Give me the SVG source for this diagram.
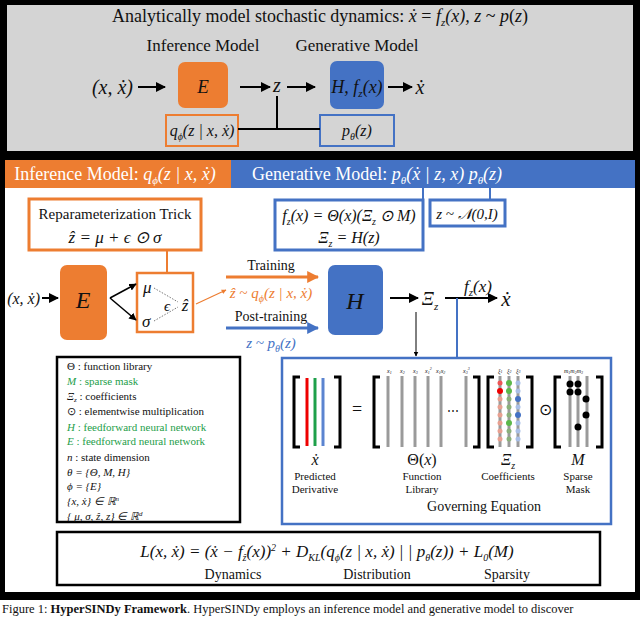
<svg xmlns="http://www.w3.org/2000/svg" width="640" height="618" viewBox="0 0 640 618" font-family="'Liberation Serif', 'Times New Roman', serif">
<defs>
<marker id="ab" viewBox="0 0 10 10" refX="9" refY="5" markerWidth="5" markerHeight="5" orient="auto"><path d="M0,0 L10,5 L0,10 z" fill="#000"/></marker>
<marker id="ao" viewBox="0 0 10 10" refX="9" refY="5" markerWidth="4" markerHeight="4" orient="auto"><path d="M0,0 L10,5 L0,10 z" fill="#ED7D31"/></marker>
<marker id="al" viewBox="0 0 10 10" refX="9" refY="5" markerWidth="4" markerHeight="4" orient="auto"><path d="M0,0 L10,5 L0,10 z" fill="#4472C4"/></marker>
<style>
text{font-family:'Liberation Serif','Times New Roman',serif;fill:#111}
.m{font-style:italic}
.c{text-anchor:middle}
.ln{stroke:#000;stroke-width:2;fill:none}
.ob{stroke:#ED7D31;stroke-width:3;fill:#fff}
.bb{stroke:#4472C4;stroke-width:3;fill:#fff}
.g{stroke:#9a9a9a;stroke-width:3}
.lg{font-size:11px}
.gr{fill:#1e9e4a}
</style>
</defs>
<rect x="0" y="0" width="640" height="600" fill="#000"/>
<rect x="0" y="600" width="640" height="18" fill="#fff"/>
<rect x="7" y="5" width="626" height="146" fill="#d4d4d4"/>
<rect x="5" y="160" width="630" height="432" fill="#fff"/>

<g id="top">
<text x="320" y="22" class="c" font-size="18">Analytically model stochastic dynamics:  <tspan class="m">ẋ</tspan> = <tspan class="m">f<tspan font-size="11" dy="4">z</tspan><tspan dy="-4">(x), z</tspan></tspan> ~ <tspan class="m">p</tspan>(<tspan class="m">z</tspan>)</text>
<text x="203" y="51" class="c" font-size="17">Inference Model</text>
<text x="357" y="51" class="c" font-size="17">Generative Model</text>
<text x="133" y="94" font-size="20" class="m" text-anchor="end">(x, ẋ)</text>
<rect id="E1" x="178" y="62" width="50" height="46" rx="7" fill="#ED7D31"/>
<text x="203" y="93" class="c m" font-size="19">E</text>
<text x="277" y="92" class="c m" font-size="20">z</text>
<rect id="H1" x="330" y="61" width="54" height="48" rx="7" fill="#4472C4"/>
<text x="357" y="93" class="c m" font-size="18">H, f<tspan font-size="11" dy="4">z</tspan><tspan dy="-4">(x)</tspan></text>
<text x="420" y="94" class="c m" font-size="20">ẋ</text>
<rect id="q1" x="166" y="115" width="72" height="31" fill="none" stroke="#ED7D31" stroke-width="2"/>
<text x="202" y="136" class="c m" font-size="16">q<tspan font-size="10" dy="4">ϕ</tspan><tspan dy="-4">(z | x, ẋ)</tspan></text>
<rect id="p1" x="320" y="115" width="74" height="31" fill="none" stroke="#4472C4" stroke-width="2"/>
<text x="357" y="136" class="c m" font-size="16">p<tspan font-size="10" dy="4">θ</tspan><tspan dy="-4">(z)</tspan></text>
</g>
<g id="topconn">
<line x1="138" y1="87" x2="165" y2="87" class="ln" marker-end="url(#ab)"/>
<line x1="240" y1="87" x2="270" y2="87" class="ln" marker-end="url(#ab)"/>
<line x1="287" y1="87" x2="315" y2="87" class="ln" marker-end="url(#ab)"/>
<line x1="388" y1="87" x2="412" y2="87" class="ln" marker-end="url(#ab)"/>
<path d="M238,129 H320 M277,96 V129" class="ln"/>
</g>

<g id="headers">
<rect x="5" y="160" width="226" height="28" fill="#ED7D31"/>
<rect x="231" y="160" width="404" height="28" fill="#4472C4"/>
<text x="115" y="180" class="c" font-size="18" style="fill:#fff">Inference Model: <tspan class="m" style="fill:#fff">q<tspan font-size="11" dy="4">ϕ</tspan><tspan dy="-4">(z | x, ẋ)</tspan></tspan></text>
<text x="377" y="180" class="c" font-size="18" style="fill:#fff">Generative Model: <tspan class="m" style="fill:#fff">p<tspan font-size="11" dy="4">θ</tspan><tspan dy="-4">(ẋ | z, x) p</tspan><tspan font-size="11" dy="4">θ</tspan><tspan dy="-4">(z)</tspan></tspan></text>
</g>

<g id="reparam">
<rect x="29" y="199" width="172" height="51" class="ob"/>
<text x="115" y="219" class="c" font-size="15">Reparameterization Trick</text>
<text x="115" y="243" class="c m" font-size="17">ẑ = μ + ϵ ⊙ σ</text>
</g>
<g id="fbox">
<rect x="275" y="200" width="148" height="50" class="bb"/>
<text x="349" y="221" class="c m" font-size="16">f<tspan font-size="10" dy="4">z</tspan><tspan dy="-4">(x) = Θ(x)(Ξ</tspan><tspan font-size="10" dy="4">z</tspan><tspan dy="-4"> ⊙ M)</tspan></text>
<text x="349" y="243" class="c m" font-size="16">Ξ<tspan font-size="10" dy="4">z</tspan><tspan dy="-4"> = H(z)</tspan></text>
</g>
<g id="nbox">
<rect x="430" y="200" width="75" height="26" class="bb"/>
<text x="467" y="219" class="c m" font-size="15">z ~ 𝒩(0,I)</text>
</g>

<g id="E2"><rect x="60" y="265" width="47" height="75" rx="7" fill="#ED7D31"/><text x="83" y="308" class="c m" font-size="24">E</text></g>
<text x="40" y="304" class="m" font-size="16" text-anchor="end">(x, ẋ)</text>
<g id="mu">
<rect x="137" y="273" width="56" height="59" fill="#fff" stroke="#ED7D31" stroke-width="2.5"/>
<text x="143" y="293" class="m" font-size="17">μ</text>
<text x="142" y="327" class="m" font-size="17">σ</text>
<text x="164" y="311" class="m" font-size="15">ϵ</text>
<text x="185" y="311" class="c m" font-size="17">ẑ</text>
<path d="M154,288 L178,302 M154,321 L178,307" stroke="#777" stroke-width="1" stroke-dasharray="1.5,1.5" fill="none"/>
</g>
<g id="H2"><rect x="328" y="265" width="55" height="70" rx="7" fill="#4472C4"/><text x="355" y="309" class="c m" font-size="24">H</text></g>
<text x="430" y="305" class="c m" font-size="19">Ξ<tspan font-size="11" dy="5">z</tspan></text>
<text x="478" y="292" class="c m" font-size="17">f<tspan font-size="11" dy="4">z</tspan><tspan dy="-4">(x)</tspan></text>
<text x="506" y="306" class="c m" font-size="21">ẋ</text>
<text x="271" y="270" class="c" font-size="14">Training</text>
<text x="271" y="298" class="c m" font-size="15" style="fill:#ED7D31">ẑ ~ q<tspan font-size="10" dy="4">ϕ</tspan><tspan dy="-4">(z | x, ẋ)</tspan></text>
<text x="271" y="321" class="c" font-size="14">Post-training</text>
<text x="271" y="348" class="c m" font-size="15" style="fill:#4472C4">z ~ p<tspan font-size="10" dy="4">θ</tspan><tspan dy="-4">(z)</tspan></text>

<g id="connectors">
<line x1="423" y1="188" x2="423" y2="200" stroke="#4472C4" stroke-width="2"/>
<line x1="490" y1="188" x2="490" y2="200" stroke="#4472C4" stroke-width="2"/>
<line x1="167" y1="250" x2="167" y2="273" stroke="#ED7D31" stroke-width="2"/>
<line x1="42" y1="298" x2="58" y2="298" class="ln" marker-end="url(#ab)"/>
<line x1="110" y1="298" x2="136" y2="284" stroke="#000" stroke-width="1.5" marker-end="url(#ab)"/>
<line x1="110" y1="298" x2="136" y2="320" stroke="#000" stroke-width="1.5" marker-end="url(#ab)"/>
<line x1="196" y1="304" x2="226" y2="290" stroke="#ED7D31" stroke-width="1.2" marker-end="url(#ao)"/>
<line x1="226" y1="277" x2="318" y2="277" stroke="#ED7D31" stroke-width="3" marker-end="url(#ao)"/>
<line x1="226" y1="328" x2="318" y2="328" stroke="#4472C4" stroke-width="3" marker-end="url(#al)"/>
<line x1="390" y1="298" x2="418" y2="298" class="ln" marker-end="url(#ab)"/>
<line x1="445" y1="298" x2="497" y2="298" class="ln" marker-end="url(#ab)"/>
<line x1="416" y1="312" x2="416" y2="356" stroke="#000" stroke-width="1" marker-end="url(#ab)"/>
<line x1="457" y1="298" x2="457" y2="358" stroke="#4472C4" stroke-width="2"/>
</g>

<g id="legend">
<rect x="57" y="357" width="183" height="165" fill="#fff" stroke="#000" stroke-width="2.5"/>
<text x="67" y="370" class="lg">Θ : function library</text>
<text x="67" y="385" class="lg gr"><tspan class="m">M</tspan> : sparse mask</text>
<text x="67" y="400" class="lg"><tspan class="m">Ξ<tspan font-size="7" dy="2">z</tspan></tspan><tspan dy="-2"> : coefficients</tspan></text>
<text x="67" y="415" class="lg">⊙ : elementwise multiplication</text>
<text x="67" y="431" class="lg gr"><tspan class="m">H</tspan> : feedforward neural network</text>
<text x="67" y="445" class="lg gr"><tspan class="m">E</tspan> : feedforward neural network</text>
<text x="67" y="461" class="lg"><tspan class="m">n</tspan> : state dimension</text>
<text x="67" y="476" class="lg m">θ = {Θ, M, H}</text>
<text x="67" y="490" class="lg m">ϕ = {E}</text>
<text x="67" y="505" class="lg m">{x, ẋ} ∈ ℝ<tspan font-size="7" dy="-4">n</tspan></text>
<text x="67" y="520" class="lg m">{ μ, σ, ẑ, z} ∈ ℝ<tspan font-size="7" dy="-4">d</tspan></text>
</g>

<g id="governing">
<rect x="282" y="358" width="329" height="166" fill="#fff" stroke="#4472C4" stroke-width="2.5"/>
<path d="M300,377 H294 V447 H300 M334,377 H340 V447 H334" stroke="#000" stroke-width="3" fill="none"/>
<line x1="307" y1="378" x2="307" y2="446" stroke="#e00" stroke-width="3"/>
<line x1="315" y1="378" x2="315" y2="446" stroke="#1ea04a" stroke-width="3"/>
<line x1="323" y1="378" x2="323" y2="446" stroke="#5b84d0" stroke-width="3"/>
<text x="357" y="415" class="c" font-size="18">=</text>
<path d="M380,377 H374 V447 H380 M473,377 H479 V447 H473" stroke="#000" stroke-width="3" fill="none"/>
<g class="g"><line x1="388" y1="376" x2="388" y2="447"/><line x1="402" y1="376" x2="402" y2="447"/><line x1="415" y1="376" x2="415" y2="447"/><line x1="428" y1="376" x2="428" y2="447"/><line x1="441" y1="376" x2="441" y2="447"/><line x1="466" y1="376" x2="466" y2="447"/></g>
<text x="453" y="415" class="c" font-size="12">⋯</text>
<g font-size="6" class="m"><text x="387" y="373">x<tspan font-size="4" dy="1">1</tspan></text><text x="400" y="373">x<tspan font-size="4" dy="1">2</tspan></text><text x="413" y="373">x<tspan font-size="4" dy="1">3</tspan></text><text x="425" y="373">x<tspan font-size="4" dy="1">1</tspan><tspan font-size="4" dy="-4">2</tspan></text><text x="436" y="373">x<tspan font-size="4" dy="1">1</tspan><tspan dy="-1">x</tspan><tspan font-size="4" dy="1">2</tspan></text><text x="463" y="373">x<tspan font-size="4" dy="1">3</tspan><tspan font-size="4" dy="-4">3</tspan></text></g>
<path d="M494,377 H488 V447 H494 M526,377 H532 V447 H526" stroke="#000" stroke-width="3" fill="none"/>
<g class="g"><line x1="500" y1="376" x2="500" y2="447"/><line x1="509" y1="376" x2="509" y2="447"/><line x1="518" y1="376" x2="518" y2="447"/></g>
<g font-size="6" class="m"><text x="498" y="373">ξ<tspan font-size="4">1</tspan></text><text x="507" y="373">ξ<tspan font-size="4">2</tspan></text><text x="516" y="373">ξ<tspan font-size="4">3</tspan></text></g>
<g fill="#e8a090"><circle cx="500" cy="407" r="2.5"/><circle cx="500" cy="415" r="2.5"/><circle cx="500" cy="423" r="2.5"/><circle cx="500" cy="431" r="2.5"/><circle cx="500" cy="439" r="2.5"/><circle cx="500" cy="399" r="2.5"/></g>
<circle cx="500" cy="391" r="3" fill="#e00"/><circle cx="500" cy="383" r="2.5" fill="#e55"/>
<g fill="#8ab07a"><circle cx="509" cy="399" r="2.5"/><circle cx="509" cy="407" r="2.5"/><circle cx="509" cy="415" r="2.5"/><circle cx="509" cy="431" r="2.5"/><circle cx="509" cy="439" r="2.5"/></g>
<circle cx="509" cy="383" r="3" fill="#5cb84a"/><circle cx="509" cy="391" r="3" fill="#5cb84a"/><circle cx="509" cy="423" r="3" fill="#5cb84a"/>
<g fill="#a9bfe6"><circle cx="518" cy="383" r="2.5"/><circle cx="518" cy="391" r="2.5"/><circle cx="518" cy="407" r="2.5"/><circle cx="518" cy="423" r="2.5"/><circle cx="518" cy="431" r="2.5"/><circle cx="518" cy="439" r="2.5"/></g>
<circle cx="518" cy="399" r="3" fill="#4472C4"/><circle cx="518" cy="415" r="3" fill="#4472C4"/>
<text x="545" y="415" class="c" font-size="16">⊙</text>
<path d="M561,377 H555 V447 H561 M596,377 H602 V447 H596" stroke="#000" stroke-width="3" fill="none"/>
<g class="g"><line x1="570" y1="376" x2="570" y2="447"/><line x1="578" y1="376" x2="578" y2="447"/><line x1="587" y1="376" x2="587" y2="447"/></g>
<g font-size="6" class="m"><text x="564" y="373">m<tspan font-size="4" dy="1">1</tspan><tspan dy="-1">m</tspan><tspan font-size="4" dy="1">2</tspan><tspan dy="-1">m</tspan><tspan font-size="4" dy="1">3</tspan></text></g>
<g fill="#000"><circle cx="570" cy="384" r="3.5"/><circle cx="578" cy="384" r="3.5"/><circle cx="570" cy="392" r="3.5"/><circle cx="578" cy="392" r="3.5"/><circle cx="586" cy="399" r="3.5"/><circle cx="586" cy="415" r="3.5"/><circle cx="578" cy="427" r="3.5"/></g>
<text x="315" y="465" class="c m" font-size="16">ẋ</text>
<text x="315" y="480" class="c" font-size="11">Predicted</text>
<text x="315" y="493" class="c" font-size="11">Derivative</text>
<text x="422" y="465" class="c" font-size="16">Θ(<tspan class="m">x</tspan>)</text>
<text x="422" y="480" class="c" font-size="11">Function</text>
<text x="422" y="493" class="c" font-size="11">Library</text>
<text x="508" y="465" class="c m" font-size="16">Ξ<tspan font-size="10" dy="4">z</tspan></text>
<text x="508" y="480" class="c" font-size="11">Coefficients</text>
<text x="578" y="465" class="c m" font-size="16">M</text>
<text x="578" y="480" class="c" font-size="11">Sparse</text>
<text x="578" y="493" class="c" font-size="11">Mask</text>
<text x="484" y="511" class="c" font-size="14">Governing Equation</text>
</g>

<g id="loss">
<rect x="57" y="532" width="543" height="53" fill="#fff" stroke="#000" stroke-width="2.5"/>
<text x="327" y="557" class="c m" font-size="17">L(x, ẋ) = (ẋ − f<tspan font-size="10" dy="4">ẑ</tspan><tspan dy="-4">(x))</tspan><tspan font-size="10" dy="-6">2</tspan><tspan dy="6"> + D</tspan><tspan font-size="10" dy="4">KL</tspan><tspan dy="-4">(q</tspan><tspan font-size="10" dy="4">ϕ</tspan><tspan dy="-4">(z | x, ẋ) | | p</tspan><tspan font-size="10" dy="4">θ</tspan><tspan dy="-4">(z)) + L</tspan><tspan font-size="10" dy="4">0</tspan><tspan dy="-4">(M)</tspan></text>
<text x="233" y="579" class="c" font-size="14">Dynamics</text>
<text x="377" y="579" class="c" font-size="14">Distribution</text>
<text x="507" y="579" class="c" font-size="14">Sparsity</text>
</g>
<text x="2" y="613" font-size="12.5">Figure 1: <tspan font-weight="bold">HyperSINDy Framework</tspan>. HyperSINDy employs an inference model and generative model to discover</text>
</svg>
